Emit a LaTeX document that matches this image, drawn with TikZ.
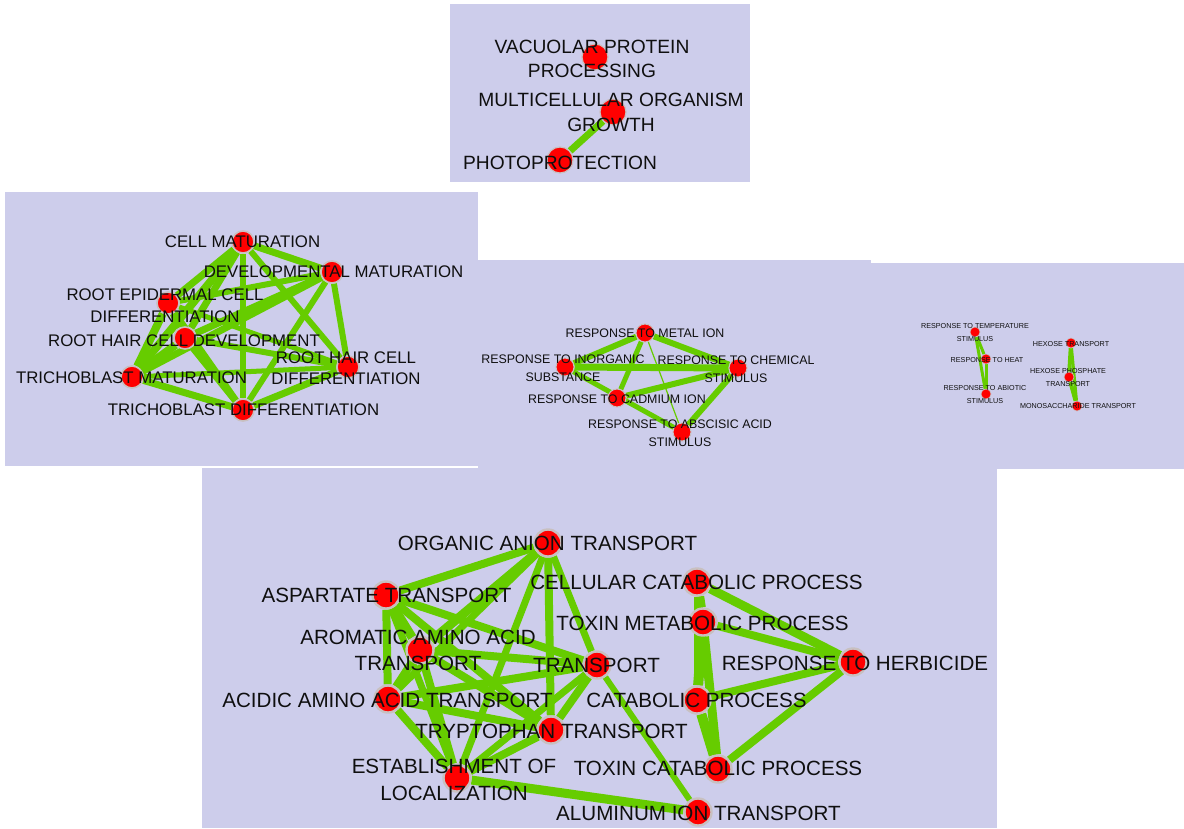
\documentclass[tikz,border=0pt]{standalone}
\usepackage{fontspec}
\setmainfont{Liberation Sans}
\pgfdeclarelayer{bg}
\pgfdeclarelayer{edges}
\pgfsetlayers{bg,edges,main}
\definecolor{panelc}{RGB}{205,205,235}
\definecolor{edgec}{RGB}{102,204,0}
\definecolor{nodered}{RGB}{255,0,0}
\definecolor{nodeborder}{RGB}{200,192,192}
\definecolor{txt}{RGB}{15,15,15}
\begin{document}
\begin{tikzpicture}[x=1pt,y=-1pt,
  lnk/.style={draw=edgec,line width=#1},
  dot/.style={circle,fill=nodered,draw=nodeborder,inner sep=0pt},
  nb/.style={dot,minimum size=27pt,line width=2.4pt},
  nt/.style={dot,minimum size=26pt,line width=1.2pt},
  nl/.style={dot,minimum size=22pt,line width=1.6pt},
  nm/.style={dot,minimum size=18pt,line width=1pt},
  nr/.style={dot,minimum size=10pt,line width=0.6pt},
  lbl/.style={align=center,inner sep=0pt,text=txt},
  lb/.style={lbl,font=\fontsize{20.6}{26.5}\selectfont},
  lt/.style={lbl,font=\fontsize{19.2}{24.5}\selectfont},
  ll/.style={lbl,font=\fontsize{16.8}{21.5}\selectfont},
  lm/.style={lbl,font=\fontsize{12.4}{18}\selectfont},
  lr/.style={lbl,font=\fontsize{7.2}{13}\selectfont},
  panel/.style={fill=panelc}
]
\useasboundingbox (0,0) rectangle (1184,828);
\begin{pgfonlayer}{bg}
\fill[white] (0,0) rectangle (1184,828);
\fill[panel] (450,4) rectangle (750,182);
\fill[panel] (5,192) rectangle (478,466);
\fill[panel] (478,260) rectangle (871,468);
\fill[panel] (871,263) rectangle (1184,469);
\fill[panel] (202,468) rectangle (997,828);
\end{pgfonlayer}

% ---------- top panel ----------
\node[nt] (vpp) at (595,57) {};
\node[nt] (mog) at (613,112) {};
\node[nt] (pho) at (560,160) {};

% ---------- left panel ----------
\node[nl] (cm) at (243,242) {};
\node[nl] (dm) at (332,272) {};
\node[nl] (rep) at (168,303) {};
\node[nl] (rhd) at (185,338) {};
\node[nl] (rhf) at (348,367) {};
\node[nl] (tm) at (132,377) {};
\node[nl] (td) at (243,410) {};

% ---------- middle panel ----------
\node[nm] (metal) at (645,333) {};
\node[nm] (inorg) at (565,367) {};
\node[nm] (chem) at (738,368) {};
\node[nm] (cad) at (617,398) {};
\node[nm] (abs) at (682,432) {};

% ---------- right panel ----------
\node[nr] (temp) at (975,332) {};
\node[nr] (heat) at (986,359) {};
\node[nr] (abio) at (986,394) {};
\node[nr] (hex) at (1071,343) {};
\node[nr] (hexp) at (1069,377) {};
\node[nr] (mono) at (1077,406) {};

% ---------- bottom panel ----------
\node[nb] (oat) at (548,543) {};
\node[nb] (asp) at (386,595) {};
\node[nb] (arom) at (420,650) {};
\node[nb] (acid) at (388,699) {};
\node[nb] (tr) at (597,665) {};
\node[nb] (tryp) at (551,730) {};
\node[nb] (est) at (457,778) {};
\node[nb] (cell) at (697,582) {};
\node[nb] (tmet) at (703,622) {};
\node[nb] (herb) at (853,662) {};
\node[nb] (cat) at (697,700) {};
\node[nb] (tcat) at (718,769) {};
\node[nb] (alu) at (698,812) {};

\begin{pgfonlayer}{edges}
\draw[lnk=7pt] (mog) -- (pho);
\foreach \a/\b/\w in {cm/dm/7,cm/rep/7,cm/rhd/7,cm/tm/8,cm/td/6,cm/rhf/6,
  dm/rep/6,dm/rhd/7,dm/tm/7,dm/td/6,dm/rhf/6,
  rep/rhd/7,rep/tm/8,rep/td/6,rep/rhf/5,
  rhd/tm/8,rhd/td/7,rhd/rhf/6,tm/td/7,tm/rhf/5,td/rhf/7}
  \draw[lnk=\w pt] (\a) -- (\b);
\foreach \a/\b/\w in {metal/inorg/6,metal/chem/6,metal/cad/5,metal/abs/1.2,
  inorg/chem/7,inorg/abs/5,cad/chem/6,cad/abs/1.2,chem/abs/6}
  \draw[lnk=\w pt] (\a) -- (\b);
\foreach \a/\b/\w in {temp/heat/3,temp/abio/3,heat/abio/3,hex/hexp/4,hex/mono/3,hexp/mono/4}
  \draw[lnk=\w pt] (\a) -- (\b);
\foreach \a/\b/\w in {oat/asp/8,oat/arom/9,oat/acid/7,oat/tr/7,oat/tryp/8,oat/est/7,
  asp/arom/9,asp/acid/8,asp/tr/8,asp/tryp/8,asp/est/7,
  arom/acid/8,arom/tr/8,arom/tryp/8,arom/est/8,
  acid/tr/8,acid/tryp/8,acid/est/8,
  tr/tryp/8,tr/est/7,tryp/est/8,
  est/alu/9,tr/alu/6,
  cell/tmet/10,cell/cat/6,cell/tcat/6,tmet/cat/10,tmet/tcat/9,cat/tcat/10,
  herb/cell/9,herb/tmet/8,herb/cat/8,herb/tcat/8}
  \draw[lnk=\w pt] (\a) -- (\b);
\end{pgfonlayer}

% ---------- labels ----------
\node[lt] (vpp-l) at (592,59) {VACUOLAR PROTEIN\\PROCESSING};
\node[lt] (mog-l) at (611,112.5) {MULTICELLULAR ORGANISM\\GROWTH};
\node[lt] (pho-l) at (560,163) {PHOTOPROTECTION};

\node[ll] (cm-l) at (242.5,242) {CELL MATURATION};
\node[ll] (dm-l) at (333.5,272) {DEVELOPMENTAL MATURATION};
\node[ll] (rep-l) at (165,305.5) {ROOT EPIDERMAL CELL\\DIFFERENTIATION};
\node[ll] (rhd-l) at (184,340.5) {ROOT HAIR CELL DEVELOPMENT};
\node[ll] (rhf-l) at (346,368) {ROOT HAIR CELL\\DIFFERENTIATION};
\node[ll] (tm-l) at (131.5,378) {TRICHOBLAST MATURATION};
\node[ll] (td-l) at (243.5,410) {TRICHOBLAST DIFFERENTIATION};

\node[lm] (metal-l) at (645,333) {RESPONSE TO METAL ION};
\node[lm] (inorg-l) at (563,368) {RESPONSE TO INORGANIC\\SUBSTANCE};
\node[lm] (chem-l) at (736,369) {RESPONSE TO CHEMICAL\\STIMULUS};
\node[lm] (cad-l) at (617,399) {RESPONSE TO CADMIUM ION};
\node[lm] (abs-l) at (680,433) {RESPONSE TO ABSCISIC ACID\\STIMULUS};

\node[lr] (temp-l) at (975,332.5) {RESPONSE TO TEMPERATURE\\STIMULUS};
\node[lr] (heat-l) at (987,360) {RESPONSE TO HEAT};
\node[lr] (abio-l) at (985,394.5) {RESPONSE TO ABIOTIC\\STIMULUS};
\node[lr] (hex-l) at (1071,344) {HEXOSE TRANSPORT};
\node[lr] (hexp-l) at (1068,377.5) {HEXOSE PHOSPHATE\\TRANSPORT};
\node[lr] (mono-l) at (1078,406) {MONOSACCHARIDE TRANSPORT};

\node[lb] (oat-l) at (547.5,543) {ORGANIC ANION TRANSPORT};
\node[lb] (asp-l) at (386.5,595) {ASPARTATE TRANSPORT};
\node[lb] (arom-l) at (418,650.5) {AROMATIC AMINO ACID\\TRANSPORT};
\node[lb] (acid-l) at (387.5,700) {ACIDIC AMINO ACID TRANSPORT};
\node[lb] (tr-l) at (596.5,665) {TRANSPORT};
\node[lb] (tryp-l) at (551.5,731) {TRYPTOPHAN TRANSPORT};
\node[lb] (est-l) at (454,780) {ESTABLISHMENT OF\\LOCALIZATION};
\node[lb] (cell-l) at (696.5,582) {CELLULAR CATABOLIC PROCESS};
\node[lb] (tmet-l) at (702.5,623) {TOXIN METABOLIC PROCESS};
\node[lb] (herb-l) at (855,663) {RESPONSE TO HERBICIDE};
\node[lb] (cat-l) at (696.5,700) {CATABOLIC PROCESS};
\node[lb] (tcat-l) at (718,768) {TOXIN CATABOLIC PROCESS};
\node[lb] (alu-l) at (698.5,813) {ALUMINUM ION TRANSPORT};
\end{tikzpicture}
\end{document}
